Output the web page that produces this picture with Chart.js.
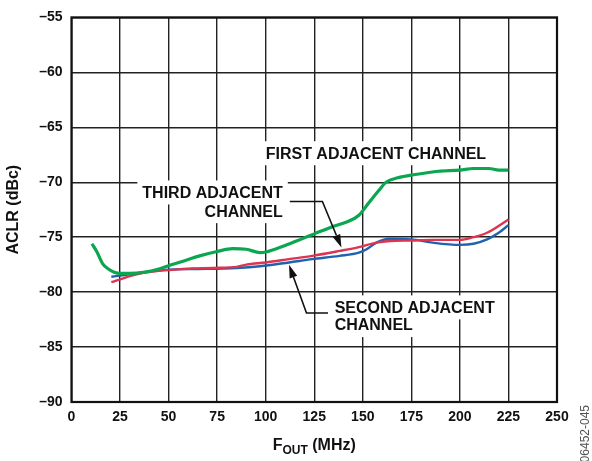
<!DOCTYPE html>
<html>
<head>
<meta charset="utf-8">
<script src="https://cdn.jsdelivr.net/npm/chart.js@4/dist/chart.umd.min.js"></script>
<style>
html,body{margin:0;padding:0;background:#fff;}
canvas{display:block;}
</style>
</head>
<body>
<canvas id="c" width="592" height="461"></canvas>
<script>
// ---- data ----
const firstX = [10.5, 13, 16, 19, 22, 25, 30, 37, 45, 50, 59, 66, 75, 83, 90, 97, 100, 110, 118, 125, 135, 142, 148, 153, 158, 162, 168, 177, 189, 200, 207, 215, 220, 225];
const firstY = [-75.6, -76.3, -77.4, -77.9, -78.2, -78.3, -78.3, -78.2, -77.9, -77.6, -77.1, -76.7, -76.3, -76.05, -76.1, -76.4, -76.35, -75.75, -75.2, -74.7, -74.0, -73.6, -73.0, -71.9, -70.8, -70.0, -69.6, -69.3, -69.0, -68.9, -68.75, -68.75, -68.9, -68.9];

const thirdX = [20.5, 25, 30, 37, 45, 50, 62, 73, 85, 90, 100, 112, 124, 138, 148, 157, 164, 175, 186, 200, 207, 214, 225];
const thirdY = [-79.1, -78.85, -78.55, -78.25, -78.05, -78.0, -77.85, -77.8, -77.7, -77.5, -77.3, -77.0, -76.7, -76.25, -75.9, -75.5, -75.35, -75.3, -75.25, -75.25, -75.0, -74.6, -73.4];

const secondX = [20.5, 25, 37, 50, 62, 85, 97, 112, 124, 138, 148, 152, 157, 164, 175, 186, 200, 207, 214, 220, 225];
const secondY = [-78.6, -78.5, -78.2, -77.95, -77.9, -77.8, -77.65, -77.3, -77.0, -76.7, -76.4, -76.1, -75.5, -75.15, -75.2, -75.5, -75.7, -75.6, -75.2, -74.6, -73.9];

const xTicks = [0, 25, 50, 75, 100, 125, 150, 175, 200, 225, 250];
const yTicks = [-55, -60, -65, -70, -75, -80, -85, -90];

const xTitleMain = 'F';
const xTitleSub = 'OUT';
const xTitleTail = ' (MHz)';
const yTitle = 'ACLR (dBc)';
const watermark = '06452-045';

// annotation texts and anchors (data units)
const labelFirstText = ['FIRST ADJACENT CHANNEL'];
const labelThirdText = ['THIRD ADJACENT', 'CHANNEL'];
const labelSecondText = ['SECOND ADJACENT', 'CHANNEL'];

const FONT = '"Liberation Sans", Arial, Helvetica, sans-serif';

const annotations = [
  {lines: labelFirstText, x: 100, ys: [-67.36], align: 'left'},
  {lines: labelThirdText, x: 108.8, ys: [-70.93, -72.63], align: 'right'},
  {lines: labelSecondText, x: 135.5, ys: [-81.39, -83.0], align: 'left'}
];
const leaders = [
  {xs: [112.4, 129.2, 139.0], ys: [-71.76, -71.76, -75.94]},
  {xs: [132.1, 121.0, 112.0], ys: [-81.9, -81.9, -77.52]}
];

function pts(xs, ys){ return xs.map((x,i)=>({x:x, y:ys[i]})); }

const annotPlugin = {
  id: 'annot',
  beforeDatasetsDraw(chart){
    const ctx = chart.ctx, xs = chart.scales.x, ys = chart.scales.y;
    ctx.save();
    ctx.font = 'bold 16px ' + FONT;
    ctx.textBaseline = 'middle';
    annotations.forEach(a=>{
      const ax = xs.getPixelForValue(a.x);
      a.lines.forEach((t,i)=>{
        const cy = ys.getPixelForValue(a.ys[i]);
        const w = ctx.measureText(t).width;
        const left = a.align === 'left' ? ax : ax - w;
        ctx.fillStyle = '#fff';
        ctx.fillRect(left - 5, cy - 12, w + 10, 24);
      });
    });
    annotations.forEach(a=>{
      const ax = xs.getPixelForValue(a.x);
      a.lines.forEach((t,i)=>{
        const cy = ys.getPixelForValue(a.ys[i]);
        ctx.fillStyle = '#111';
        ctx.textAlign = a.align;
        ctx.fillText(t, ax, cy + 1);
      });
    });
    ctx.restore();
  },
  afterDatasetsDraw(chart){
    const ctx = chart.ctx, xs = chart.scales.x, ys = chart.scales.y;
    ctx.save();
    ctx.strokeStyle = '#111';
    ctx.fillStyle = '#111';
    ctx.lineWidth = 1.6;
    leaders.forEach(l=>{
      const p = l.xs.map((x,i)=>[xs.getPixelForValue(x), ys.getPixelForValue(l.ys[i])]);
      const n = p.length;
      const tip = p[n-1], prev = p[n-2];
      const ang = Math.atan2(tip[1]-prev[1], tip[0]-prev[0]);
      const L = 13, W = 4;
      const bx = tip[0] - L*Math.cos(ang), by = tip[1] - L*Math.sin(ang);
      ctx.beginPath();
      ctx.moveTo(p[0][0], p[0][1]);
      for (let i=1;i<n-1;i++) ctx.lineTo(p[i][0], p[i][1]);
      ctx.lineTo(bx, by);
      ctx.stroke();
      ctx.beginPath();
      ctx.moveTo(tip[0], tip[1]);
      ctx.lineTo(bx + W*Math.sin(ang), by - W*Math.cos(ang));
      ctx.lineTo(bx - W*Math.sin(ang), by + W*Math.cos(ang));
      ctx.closePath();
      ctx.fill();
    });
    ctx.restore();
  },
  afterDraw(chart){
    const ctx = chart.ctx, a = chart.chartArea;
    ctx.save();
    // frame
    ctx.strokeStyle = '#111';
    ctx.lineWidth = 2.2;
    ctx.strokeRect(a.left, a.top, a.right - a.left, a.bottom - a.top);
    // y title
    ctx.fillStyle = '#111';
    ctx.font = 'bold 16px ' + FONT;
    ctx.textAlign = 'center';
    ctx.textBaseline = 'middle';
    ctx.translate(14, (a.top + a.bottom)/2);
    ctx.rotate(-Math.PI/2);
    ctx.fillText(yTitle, 0, 0);
    ctx.restore();
    // x title with subscript
    ctx.save();
    ctx.fillStyle = '#111';
    ctx.textBaseline = 'alphabetic';
    ctx.textAlign = 'left';
    const fMain = 'bold 16px ' + FONT, fSub = 'bold 12px ' + FONT;
    ctx.font = fMain; const w1 = ctx.measureText(xTitleMain).width, w3 = ctx.measureText(xTitleTail).width;
    ctx.font = fSub; const w2 = ctx.measureText(xTitleSub).width;
    const tot = w1 + w2 + w3;
    let x0 = (a.left + a.right)/2 - tot/2;
    const base = 450;
    ctx.font = fMain; ctx.fillText(xTitleMain, x0, base);
    ctx.font = fSub; ctx.fillText(xTitleSub, x0 + w1, base + 3.5);
    ctx.font = fMain; ctx.fillText(xTitleTail, x0 + w1 + w2, base);
    ctx.restore();
    // watermark
    ctx.save();
    ctx.fillStyle = '#555';
    ctx.font = '12px ' + FONT;
    ctx.textAlign = 'right';
    ctx.textBaseline = 'middle';
    ctx.translate(586, 405);
    ctx.rotate(-Math.PI/2);
    ctx.fillText(watermark, 0, 0);
    ctx.restore();
  }
};

const tickFont = {family: FONT, size: 14, weight: 'bold'};

new Chart(document.getElementById('c'), {
  type: 'line',
  data: {
    datasets: [
      {label: 'FIRST ADJACENT CHANNEL', data: pts(firstX, firstY), borderColor: '#0aa650', borderWidth: 3.2, pointRadius: 0, cubicInterpolationMode: 'monotone', fill: false},
      {label: 'THIRD ADJACENT CHANNEL', data: pts(thirdX, thirdY), borderColor: '#dc3451', borderWidth: 2.4, pointRadius: 0, cubicInterpolationMode: 'monotone', fill: false},
      {label: 'SECOND ADJACENT CHANNEL', data: pts(secondX, secondY), borderColor: '#1f62ad', borderWidth: 2.4, pointRadius: 0, cubicInterpolationMode: 'monotone', fill: false}
    ]
  },
  options: {
    responsive: false,
    animation: false,
    devicePixelRatio: 1,
    layout: {padding: {left: 0, top: 10.7, right: 35, bottom: 0}},
    plugins: {legend: {display: false}, tooltip: {enabled: false}, title: {display: false}},
    scales: {
      x: {
        type: 'linear', min: 0, max: 250,
        afterBuildTicks(s){ s.ticks = xTicks.map(v=>({value: v})); },
        ticks: {color: '#111', font: tickFont, padding: 7, maxRotation: 0, autoSkip: false},
        grid: {color: '#222', lineWidth: 1.4, drawTicks: false},
        border: {display: false},
        afterFit(s){ s.height = 59; }
      },
      y: {
        type: 'linear', min: -90, max: -55,
        afterBuildTicks(s){ s.ticks = yTicks.map(v=>({value: v})); },
        ticks: {color: '#111', font: tickFont, padding: 9, callback: v => String(v).replace('-', '\u2013')},
        grid: {color: '#222', lineWidth: 1.4, drawTicks: false},
        border: {display: false},
        afterFit(s){ s.width = 71.5; }
      }
    }
  },
  plugins: [annotPlugin]
});
</script>
</body>
</html>
